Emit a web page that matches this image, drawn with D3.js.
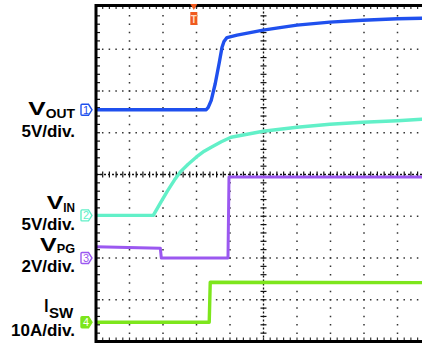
<!DOCTYPE html>
<html>
<head>
<meta charset="utf-8">
<script src="https://cdn.jsdelivr.net/npm/d3@7"></script>
<style>
  body { margin: 0; background: #fff; }
  svg { display: block; }
  text { font-family: "Liberation Sans", Arial, sans-serif; font-weight: bold; }
</style>
</head>
<body>
<div id="chart"></div>
<script>
// time in screen divisions (10 across), values in each channel's own unit
const voutT = [0, 3.29, 3.35, 3.44, 3.56, 3.68, 3.76, 3.82, 3.91, 4.21, 4.6, 4.99, 5.49, 6.0, 6.98, 7.96, 9.0, 9.72, 10];
const voutV = [0, 0, 0.29, 1.12, 3.15, 5.66, 7.45, 8.17, 8.65, 8.94, 9.24, 9.54, 9.84, 10.14, 10.5, 10.73, 10.91, 10.97, 11.0];

const vinT = [0, 1.71, 1.92, 2.13, 2.34, 2.51, 2.75, 2.99, 3.23, 3.44, 3.74, 4.03, 4.51, 4.99, 5.49, 6.0, 6.98, 7.96, 9.0, 9.72, 10];
const vinV = [0, 0, 1.48, 2.91, 4.23, 5.18, 6.13, 6.97, 7.69, 8.17, 8.82, 9.36, 9.72, 10.08, 10.32, 10.56, 10.92, 11.16, 11.34, 11.51, 11.55];

const vpgT = [0, 1.92, 1.95, 3.94, 3.97, 10];
const vpgV = [0.54, 0.47, 0, 0, 3.88, 3.88];

const iswT = [0, 3.38, 3.41, 10];
const iswV = [0, 0, 9.6, 9.5];

const channelNumbers = ["1", "2", "3", "4"];
const labelMain = ["V", "V", "V", "I"];
const labelSub = ["OUT", "IN", "PG", "SW"];
const labelUnit = ["5V/div.", "5V/div.", "2V/div.", "10A/div."];
const channelOffsets = [1.55, -0.98, -2.0, -3.54];   // ground position, divisions from centre
const channelScales = [5, 5, 2, 10];                  // units per division
const triggerT = 2.92;

const colors = ["#1f50ee", "#62f0c8", "#9b58f0", "#7de61c"];
const traces = [[voutT, voutV], [vinT, vinV], [vpgT, vpgV], [iswT, iswV]];

// label placement
const labelLayout = [
    { vx: 28.3, vw: 17.4, vy: 115, sx: 45.7, sw: 29.3, sy: 118.3, uy: 136.7 },
    { vx: 46.7, vw: 16.6, vy: 209, sx: 63.3, sw: 11.7, sy: 211.5, uy: 229.5 },
    { vx: 40, vw: 16.7, vy: 251, sx: 56.7, sw: 18.3, sy: 253, uy: 271.5 },
    { vx: 44.3, vw: 4.2, vy: 311.7, sx: 49, sw: 24.3, sy: 317.5, uy: 336 }
];

const wSvg = 422;
const hSvg = 345;
const x0 = 96, x1 = 431, y0 = 7.5, y1 = 341.5;

const svg = d3.select("#chart")
    .append("svg")
    .attr("width", wSvg)
    .attr("height", hSvg);

const xScale = d3.scaleLinear([0, 10], [x0, x1]);
const yDiv = d3.scaleLinear([-4, 4], [y1, y0]);
const yScales = channelOffsets.map((o, i) =>
    d3.scaleLinear([0, channelScales[i]], [yDiv(o), yDiv(o + 1)]));

// Grid
const grid = svg.append("g");
const xStep = (xScale(1) - xScale(0)) / 5;
const yStep = (yDiv(0) - yDiv(1)) / 5;

grid.selectAll(".hgrid")
    .data(d3.range(-3, 4).filter(d => d != 0))
    .enter()
    .append("line")
    .attr("x1", x0 - 0.75).attr("x2", x1)
    .attr("y1", d => yDiv(d)).attr("y2", d => yDiv(d))
    .attr("stroke", "#333")
    .attr("stroke-width", 1.5)
    .attr("stroke-dasharray", `1.5 ${xStep - 1.5}`);

grid.selectAll(".vgrid")
    .data(d3.range(1, 10).filter(d => d != 5))
    .enter()
    .append("line")
    .attr("x1", d => xScale(d)).attr("x2", d => xScale(d))
    .attr("y1", y0 - 0.75).attr("y2", y1)
    .attr("stroke", "#333")
    .attr("stroke-width", 1.5)
    .attr("stroke-dasharray", `1.5 ${yStep - 1.5}`);

// centre lines with minor ticks
const xc = xScale(5), yc = yDiv(0);
grid.append("line")
    .attr("x1", xc).attr("x2", xc).attr("y1", y0).attr("y2", y1)
    .attr("stroke", "#111").attr("stroke-width", 1.3)
    .attr("stroke-dasharray", "2 2");
grid.append("line")
    .attr("x1", x0).attr("x2", x1).attr("y1", yc).attr("y2", yc)
    .attr("stroke", "#111").attr("stroke-width", 1.3)
    .attr("stroke-dasharray", "2 2");

const yMinor = d3.range(1, 40).map(i => y0 + i * yStep);
const xMinor = d3.range(1, 50).map(i => x0 + i * xStep);

grid.selectAll(".vtick")
    .data(yMinor)
    .enter()
    .append("line")
    .attr("x1", xc - 3).attr("x2", xc + 3)
    .attr("y1", d => d).attr("y2", d => d)
    .attr("stroke", "#111").attr("stroke-width", 1.2);
grid.selectAll(".htick")
    .data(xMinor)
    .enter()
    .append("line")
    .attr("x1", d => d).attr("x2", d => d)
    .attr("y1", yc - 3).attr("y2", yc + 3)
    .attr("stroke", "#111").attr("stroke-width", 1.2);

// edge ticks
grid.selectAll(".ltick")
    .data(yMinor)
    .enter()
    .append("line")
    .attr("x1", x0).attr("x2", x0 + 4)
    .attr("y1", d => d).attr("y2", d => d)
    .attr("stroke", "#111").attr("stroke-width", 1.2);
grid.selectAll(".ttick")
    .data(xMinor)
    .enter()
    .append("line")
    .attr("x1", d => d).attr("x2", d => d)
    .attr("y1", 5).attr("y2", 9)
    .attr("stroke", "#333").attr("stroke-width", 1.2);
grid.selectAll(".btick")
    .data(xMinor)
    .enter()
    .append("line")
    .attr("x1", d => d).attr("x2", d => d)
    .attr("y1", y1 - 4).attr("y2", y1)
    .attr("stroke", "#333").attr("stroke-width", 1.2);

// Traces
traces.forEach(([ts, vs], i) => {
    const line = d3.line()
        .x(d => xScale(d[0]))
        .y(d => yScales[i](d[1]));
    svg.append("path")
        .datum(d3.zip(ts, vs))
        .attr("d", line)
        .attr("fill", "none")
        .attr("stroke", colors[i])
        .attr("stroke-width", i == 2 ? 3 : 3.4)
        .attr("stroke-linejoin", "round");
});

// Frame
svg.append("path")
    .attr("d", `M${x1 + 5},5.5 H${x0} V${y1} H${x1 + 5}`)
    .attr("fill", "none")
    .attr("stroke", "#000")
    .attr("stroke-width", 3);

// Channel markers
channelNumbers.forEach((n, i) => {
    const yc = yScales[i](0);
    const filled = i == 3;
    svg.append("path")
        .attr("d", `M82,${yc - 5.5} H88.5 L92,${yc} L88.5,${yc + 5.5} H82 Q81,${yc + 5.5} 81,${yc + 4.5} V${yc - 4.5} Q81,${yc - 5.5} 82,${yc - 5.5} Z`)
        .attr("fill", filled ? colors[i] : "#fff")
        .attr("stroke", colors[i])
        .attr("stroke-width", 1.4);
    svg.append("text")
        .attr("x", 86).attr("y", yc + 4)
        .attr("text-anchor", "middle")
        .attr("font-size", 11)
        .style("font-weight", "normal")
        .attr("fill", filled ? "#fff" : colors[i])
        .text(n);
});

// Trigger marker
const tx = xScale(triggerT);
svg.append("path")
    .attr("d", `M${tx - 3.5},4 L${tx + 3.5},4 L${tx},10 Z`)
    .attr("fill", "#f05a1e");
svg.append("rect")
    .attr("x", tx - 3.5).attr("y", 12)
    .attr("width", 7).attr("height", 13)
    .attr("fill", "#f05a1e");
svg.append("text")
    .attr("x", tx).attr("y", 22.5)
    .attr("text-anchor", "middle")
    .attr("font-size", 10)
    .attr("fill", "#ffd8c0")
    .text("T");

// Labels
labelLayout.forEach((p, i) => {
    svg.append("text")
        .attr("x", p.vx).attr("y", p.vy)
        .attr("font-size", 17.5)
        .attr("textLength", p.vw)
        .attr("lengthAdjust", "spacingAndGlyphs")
        .text(labelMain[i]);
    svg.append("text")
        .attr("x", p.sx).attr("y", p.sy)
        .attr("font-size", i == 3 ? 14.5 : 13.5)
        .attr("textLength", p.sw)
        .attr("lengthAdjust", "spacingAndGlyphs")
        .text(labelSub[i]);
    svg.append("text")
        .attr("x", 75).attr("y", p.uy)
        .attr("text-anchor", "end")
        .attr("font-size", 17)
        .text(labelUnit[i]);
});
</script>
</body>
</html>
